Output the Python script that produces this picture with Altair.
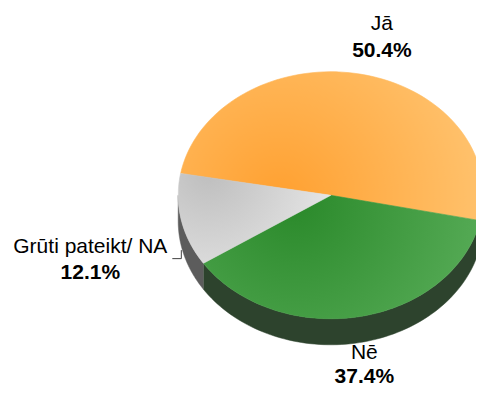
import math
import altair as alt
import pandas as pd

# ---- data ----
categories = ["Jā", "Nē", "Grūti pateikt/ NA"]
values = [50.4, 37.4, 12.1]
pct_labels = ["50.4%", "37.4%", "12.1%"]
order = [0, 1, 2]

df = pd.DataFrame({"category": categories, "value": values,
                   "pct": pct_labels, "order": order})

# ---- geometry / style ----
W, H = 468, 380
CX, CY, RX, RY, DEPTH = 330.8, 195.3, 152.6, 123.5, 26.0
START = math.radians(-79.8)
N = 80
FONT = "Liberation Sans"
FS = 21

styles = {
    "Jā": dict(c0="#ffa030", c1="#ffc878", fx=0.33, fy=0.68, r=0.8,
               side="#b36b20", dx=22, dy_name=-44, dy_pct=-17),
    "Nē": dict(c0="#2a892a", c1="#5fb25f", fx=0.33, fy=0.3, r=0.85,
               side="#2d432d", dx=5, dy_name=16.5, dy_pct=40.5),
    "Grūti pateikt/ NA": dict(c0="#bebebe", c1="#e4e4e4", fx=0.2, fy=0.2, r=0.8,
                               side="#5c5c5c", dx=-91, dy_name=6.5, dy_pct=32.5),
}

XS = alt.Scale(domain=[8, 8 + W], nice=False, zero=False)
YS = alt.Scale(domain=[8, 8 + H], nice=False, zero=False, reverse=True)
X = alt.X("px:Q", scale=XS, axis=None)
Y = alt.Y("py:Q", scale=YS, axis=None)

base = alt.Chart(df).transform_window(
    cum="sum(value)", sort=[alt.SortField("order")], frame=[None, 0]
).transform_joinaggregate(total="sum(value)").transform_calculate(
    a_start=f"{START} + 2*PI*(datum.cum - datum.value)/datum.total"
).transform_calculate(
    a_end=f"{START} + 2*PI*datum.cum/datum.total"
)

# side (depth) of the front half
side_base = base.transform_calculate(
    s0="max(datum.a_start, PI/2)"
).transform_calculate(
    s1="min(datum.a_end, 3*PI/2)"
).transform_filter("datum.s1 > datum.s0").transform_calculate(
    steps=f"sequence(0, {2 * N + 2})"
).transform_flatten(["steps"]).transform_calculate(
    ang=f"datum.steps <= {N} ? datum.s0 + (datum.s1 - datum.s0)*datum.steps/{N} "
        f": datum.s1 - (datum.s1 - datum.s0)*(datum.steps - {N + 1})/{N}"
).transform_calculate(
    px=f"{CX} + {RX}*sin(datum.ang)"
).transform_calculate(
    py=f"{CY} - {RY}*cos(datum.ang) + (datum.steps <= {N} ? 0 : {DEPTH})"
)

top_base = base.transform_calculate(
    steps=f"sequence(-1, {N + 2})"
).transform_flatten(["steps"]).transform_calculate(
    ang=f"datum.a_start + (datum.a_end - datum.a_start)*datum.steps/{N}"
).transform_calculate(
    px=f"(datum.steps < 0 || datum.steps > {N}) ? {CX} : {CX} + {RX}*sin(datum.ang)"
).transform_calculate(
    py=f"(datum.steps < 0 || datum.steps > {N}) ? {CY} : {CY} - {RY}*cos(datum.ang)"
)

lab_base = base.transform_calculate(
    mid="(datum.a_start + datum.a_end)/2"
).transform_calculate(
    px=f"{CX} + {RX}*sin(datum.mid)"
).transform_calculate(
    py=f"{CY} - {RY}*cos(datum.mid) + (cos(datum.mid) < 0 ? {DEPTH} : 0)"
)

layers = []
for cat in categories:
    st = styles[cat]
    layers.append(
        side_base.transform_filter(alt.datum.category == cat)
        .mark_line(fill=st["side"], stroke=st["side"], strokeWidth=0.5)
        .encode(x=X, y=Y, order=alt.Order("steps:Q"), detail="category:N")
    )

for cat in categories:
    st = styles[cat]
    grad = alt.RadialGradient(
        gradient="radial",
        stops=[alt.GradientStop(color=st["c0"], offset=0),
               alt.GradientStop(color=st["c1"], offset=1)],
        x1=st["fx"], y1=st["fy"], r1=0, x2=st["fx"], y2=st["fy"], r2=st["r"],
    )
    layers.append(
        top_base.transform_filter(alt.datum.category == cat)
        .mark_line(fill=grad, stroke=grad, strokeWidth=0.6)
        .encode(x=X, y=Y, order=alt.Order("steps:Q"), detail="category:N")
    )

# leader line for the small slice label
leader = lab_base.transform_filter(alt.datum.category == categories[2]).transform_calculate(
    steps="sequence(0, 3)"
).transform_flatten(["steps"]).transform_calculate(
    lx="datum.px + (datum.steps == 2 ? -9 : 0)"
).transform_calculate(
    ly="datum.py + (datum.steps == 0 ? 4 : 12.5)"
).mark_line(color="#404040", strokeWidth=1).encode(
    x=alt.X("lx:Q", scale=XS, axis=None),
    y=alt.Y("ly:Q", scale=YS, axis=None),
    order=alt.Order("steps:Q"),
)
layers.append(leader)

for cat in categories:
    st = styles[cat]
    sub = lab_base.transform_filter(alt.datum.category == cat)
    layers.append(
        sub.mark_text(font=FONT, fontSize=FS, color="#000000", align="center",
                      baseline="alphabetic", dx=st["dx"], dy=st["dy_name"])
        .encode(x=X, y=Y, text="category:N")
    )
    layers.append(
        sub.mark_text(font=FONT, fontSize=FS, fontWeight="bold", color="#000000",
                      align="center", baseline="alphabetic", dx=st["dx"], dy=st["dy_pct"])
        .encode(x=X, y=Y, text="pct:N")
    )

chart = alt.layer(*layers).properties(
    width=W, height=H, padding=0, background="white",
    autosize=alt.AutoSizeParams(type="none"),
).configure_view(stroke=None)

chart.save("out.html", embed_options={"renderer": "svg", "actions": False})
